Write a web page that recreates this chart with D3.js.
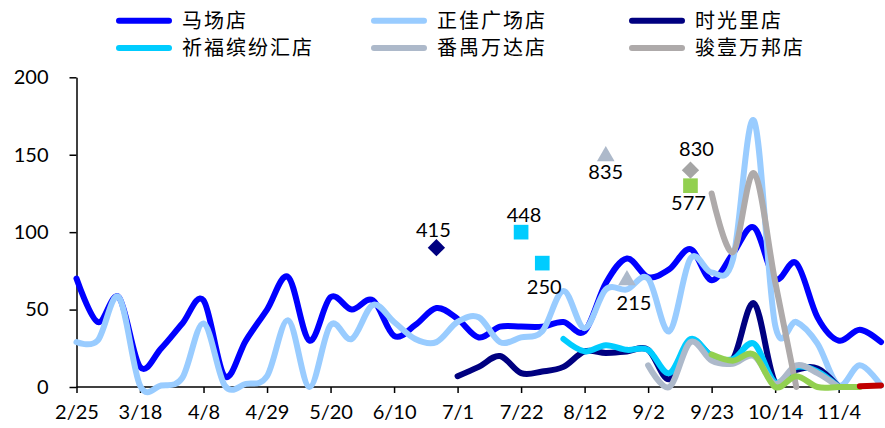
<!DOCTYPE html>
<html><head><meta charset="utf-8">
<script src="https://cdn.jsdelivr.net/npm/d3@7/dist/d3.min.js"></script>
<style>
html,body{margin:0;padding:0;background:#fff;}
svg{display:block;}
</style></head>
<body>
<svg id="chart" width="885" height="428"></svg>
<script>
const N = null;
const weeks = ["2/25","3/4","3/11","3/18","3/25","4/1","4/8","4/15","4/22","4/29","5/6","5/13","5/20","5/27","6/3","6/10","6/17","6/24","7/1","7/8","7/15","7/22","7/29","8/5","8/12","8/19","8/26","9/2","9/9","9/16","9/23","9/30","10/7","10/14","10/21","10/28","11/4","11/11","11/18"];
const tickWeeks = ["2/25","3/18","4/8","4/29","5/20","6/10","7/1","7/22","8/12","9/2","9/23","10/14","11/4"];
const yTicks = [0,50,100,150,200];

const seriesNames = ["马场店","正佳广场店","时光里店","祈福缤纷汇店","番禺万达店","骏壹万邦店","",""];
const maChang   = [70,42,58,13,25,41,56,7,30,50,71,30,58,50,56,33,40,51,44,32,39,39,39,42,36,67,83,71,76,89,69,86,103,70,80,45,30,37,29];
const zhengJia  = [29,30,58,1,1,6,41,1,2,7,43,0,40,31,53,42,31,29,42,45,29,32,36,62,38,63,63,70,36,83,74,82,172,40,42,28,1,14,1];
const shiGuangLi= [N,N,N,N,N,N,N,N,N,N,N,N,N,N,N,N,N,N,7,13,20,9,10,13,23,22,23,24,5,30,20,18,54,3,11,12,0,N,N];
const qiFu      = [N,N,N,N,N,N,N,N,N,N,N,N,N,N,N,N,N,N,N,N,N,N,N,31,23,27,24,24,9,31,20,18,28,3,13,10,0,N,N];
const panYu     = [N,N,N,N,N,N,N,N,N,N,N,N,N,N,N,N,N,N,N,N,N,N,N,N,N,N,N,14,0,29,17,15,20,2,14,9,0,N,N];
const junYi     = [N,N,N,N,N,N,N,N,N,N,N,N,N,N,N,N,N,N,N,N,N,N,N,N,N,N,N,N,N,N,125,87,138,68,0,N,N,N,N];
const series7   = [N,N,N,N,N,N,N,N,N,N,N,N,N,N,N,N,N,N,N,N,N,N,N,N,N,N,N,N,N,N,21,17,21,0,7,0,0,0,N];
const series8   = [N,N,N,N,N,N,N,N,N,N,N,N,N,N,N,N,N,N,N,N,N,N,N,N,N,N,N,N,N,N,N,N,N,N,N,N,N,0.5,1];

// single highlighted points with labels
const markerWeeks  = ["6/24","7/22","7/29","8/19","8/26","9/16","9/16"];
const markerValues = [90,100,80,149,69,140,130];
const markerLabels = ["415","448","250","835","215","830","577"];

const colors = ["#0000FF","#99CCFF","#000080","#00CCFF","#ADB9CA","#AEAAAA","#92D050","#C00000"];
const allSeries = [maChang,zhengJia,shiGuangLi,qiFu,panYu,junYi,series7,series8];

const svg = d3.select("#chart");
const x = d3.scalePoint().domain(weeks).range([76.5, 881]);
const y = d3.scaleLinear().domain([0,200]).range([387, 77.3]);
const numFont = "Lato, 'Open Sans', sans-serif";

// axes
const yAxis = svg.append("g").attr("transform","translate(76.5,0)")
  .call(d3.axisLeft(y).tickValues(yTicks).tickSize(7).tickPadding(21).tickSizeOuter(0));
const xAxis = svg.append("g").attr("transform","translate(0,387)")
  .call(d3.axisBottom(x).tickValues(tickWeeks).tickSize(6).tickPadding(12).tickSizeOuter(0));
[yAxis,xAxis].forEach(g=>{
  g.select(".domain").attr("stroke","#000").attr("stroke-width",1.5);
  g.selectAll(".tick line").attr("stroke","#000").attr("stroke-width",1.5);
  g.selectAll(".tick text").attr("fill","#000").style("font-family",numFont).style("font-size","20px");
});
xAxis.select(".domain").attr("d","M76.5,0H882");

// lines
const line = d3.line()
  .defined(d=>d.v!==null)
  .x(d=>x(d.w)).y(d=>y(d.v))
  .curve(d3.curveCardinal.tension(0));

allSeries.forEach((arr,k)=>{
  const data = arr.map((v,i)=>({w:weeks[i],v:v}));
  svg.append("path").datum(data)
    .attr("d",line)
    .attr("fill","none")
    .attr("stroke",colors[k])
    .attr("stroke-width",6)
    .attr("stroke-linejoin","round")
    .attr("stroke-linecap","round");
});

// markers
const markerStyle = [
  {shape:"diamond", color:"#000080", dx:-3, dy:-18},
  {shape:"square",  color:"#00CCFF", dx:3,  dy:-17},
  {shape:"square",  color:"#00CCFF", dx:2,  dy:24},
  {shape:"triangle",color:"#ADB9CA", dx:0,  dy:16},
  {shape:"triangle",color:"#ADB9CA", dx:7,  dy:23},
  {shape:"diamond", color:"#A5A5A5", dx:6,  dy:-21},
  {shape:"square",  color:"#92D050", dx:-2, dy:17}
];
markerWeeks.forEach((w,i)=>{
  const st = markerStyle[i];
  const cx = x(w), cy = y(markerValues[i]);
  let sym;
  if(st.shape==="diamond"){
    sym = svg.append("path").attr("d",d3.symbol(d3.symbolSquare,150)())
      .attr("transform",`translate(${cx},${cy}) rotate(45)`);
  } else if(st.shape==="square"){
    sym = svg.append("path").attr("d",d3.symbol(d3.symbolSquare,215)())
      .attr("transform",`translate(${cx},${cy})`);
  } else {
    sym = svg.append("path").attr("d",d3.symbol(d3.symbolTriangle,135)())
      .attr("transform",`translate(${cx},${cy})`);
  }
  sym.attr("fill",st.color);
  svg.append("text").attr("x",cx+st.dx).attr("y",cy+st.dy).attr("dy","0.36em")
    .attr("text-anchor","middle")
    .style("font-family",numFont).style("font-size","20px").attr("fill","#000")
    .text(markerLabels[i]);
});

// legend
const legendX = [116, 371, 629];
const legendY = [20.7, 48];
for(let k=0;k<6;k++){
  const col = k%3, row = Math.floor(k/3);
  const g = svg.append("g").attr("transform",`translate(${legendX[col]},${legendY[row]})`);
  g.append("line").attr("x1",3).attr("x2",53).attr("y1",0).attr("y2",0)
    .attr("stroke",colors[k]).attr("stroke-width",6).attr("stroke-linecap","round");
  g.append("text").attr("x",66).attr("y",0).attr("dy","0.36em")
    .style("font-family","'Noto Sans CJK SC', sans-serif").style("font-size","20px")
    .style("letter-spacing","2px").attr("fill","#000")
    .text(seriesNames[k]);
}
</script>
</body></html>
